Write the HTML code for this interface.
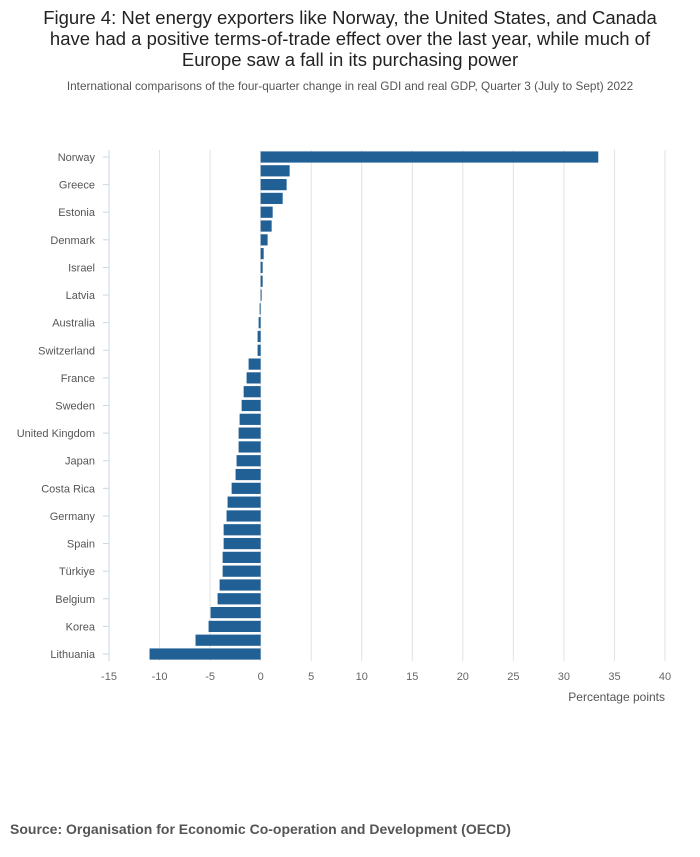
<!DOCTYPE html>
<html><head><meta charset="utf-8"><style>
body{margin:0;width:700px;height:857px;background:#fff;font-family:"Liberation Sans",sans-serif;overflow:hidden}
#title{position:absolute;left:30px;width:640px;top:7px;text-align:center;font-size:18.5px;line-height:21px;color:#222}
#sub{position:absolute;left:0;width:700px;top:79px;text-align:center;font-size:11.8px;color:#555}
#src{position:absolute;left:10px;top:821px;font-size:14px;font-weight:bold;color:#555}
</style></head><body>
<div id="title">Figure 4: Net energy exporters like Norway, the United States, and Canada have had a positive terms-of-trade effect over the last year, while much of Europe saw a fall in its purchasing power</div>
<div id="sub">International comparisons of the four-quarter change in real GDI and real GDP, Quarter 3 (July to Sept) 2022</div>
<svg id="chart" width="700" height="857" style="position:absolute;left:0;top:0"></svg>
<div id="src">Source: Organisation for Economic Co-operation and Development (OECD)</div>
<script>
const countries=["Norway","Canada","Greece","United States","Estonia","Iceland","Denmark","Mexico","Israel","Colombia","Latvia","Chile","Australia","Slovenia","Switzerland","Ireland","France","Luxembourg","Sweden","Austria","United Kingdom","Netherlands","Japan","Italy","Costa Rica","Poland","Germany","Finland","Spain","Portugal","Türkiye","Slovak Republic","Belgium","Czech Republic","Korea","Hungary","Lithuania"];
const values=[33.4,2.87,2.57,2.18,1.19,1.09,0.69,0.3,0.2,0.2,0.1,-0.1,-0.2,-0.3,-0.3,-1.19,-1.39,-1.68,-1.88,-2.08,-2.18,-2.18,-2.38,-2.48,-2.87,-3.27,-3.37,-3.66,-3.66,-3.76,-3.76,-4.06,-4.26,-4.95,-5.15,-6.44,-10.99];
const xTicks=[-15,-10,-5,0,5,10,15,20,25,30,35,40];
const NS="http://www.w3.org/2000/svg";
const svg=document.getElementById('chart');
const x0=109,x1=665,yTop=150,yBot=661,band=13.806,c0=157;
const xs=v=>x0+(v+15)/55*(x1-x0);
const yc=i=>c0+i*band;
function mk(t,a){const e=document.createElementNS(NS,t);for(const k in a)e.setAttribute(k,a[k]);svg.appendChild(e);return e;}
xTicks.forEach(t=>{
  if(t!==-15){const g=mk('line',{x1:xs(t),x2:xs(t),y1:yTop,y2:yBot,stroke:'#e2e2e2','stroke-width':1});
  
  }
  const l=mk('text',{x:xs(t),y:680,'text-anchor':'middle','font-size':11,fill:'#666'});
  l.textContent=t;
  
  
});
const ax=mk('line',{x1:x0,x2:x0,y1:yTop,y2:yBot,stroke:'#ccd6e6','stroke-width':1});


countries.forEach((c,i)=>{
  const v=values[i];
  const r=mk('rect',{x:Math.min(xs(0),xs(v)),y:yc(i)-5.6,width:Math.abs(xs(v)-xs(0)),height:11.2,fill:'#206095'});
  
  
  if(i%2===0){
    const tk=mk('line',{x1:x0-6,x2:x0,y1:yc(i),y2:yc(i),stroke:'#ccd6e6','stroke-width':1});
    
    
    const t=mk('text',{x:95,y:yc(i)+4,'text-anchor':'end','font-size':11,fill:'#555'});
    t.textContent=c;
    
    
  }
});
const xt=mk('text',{x:665,y:701,'text-anchor':'end','font-size':12,fill:'#555'});
xt.textContent='Percentage points';


</script>
</body></html>
